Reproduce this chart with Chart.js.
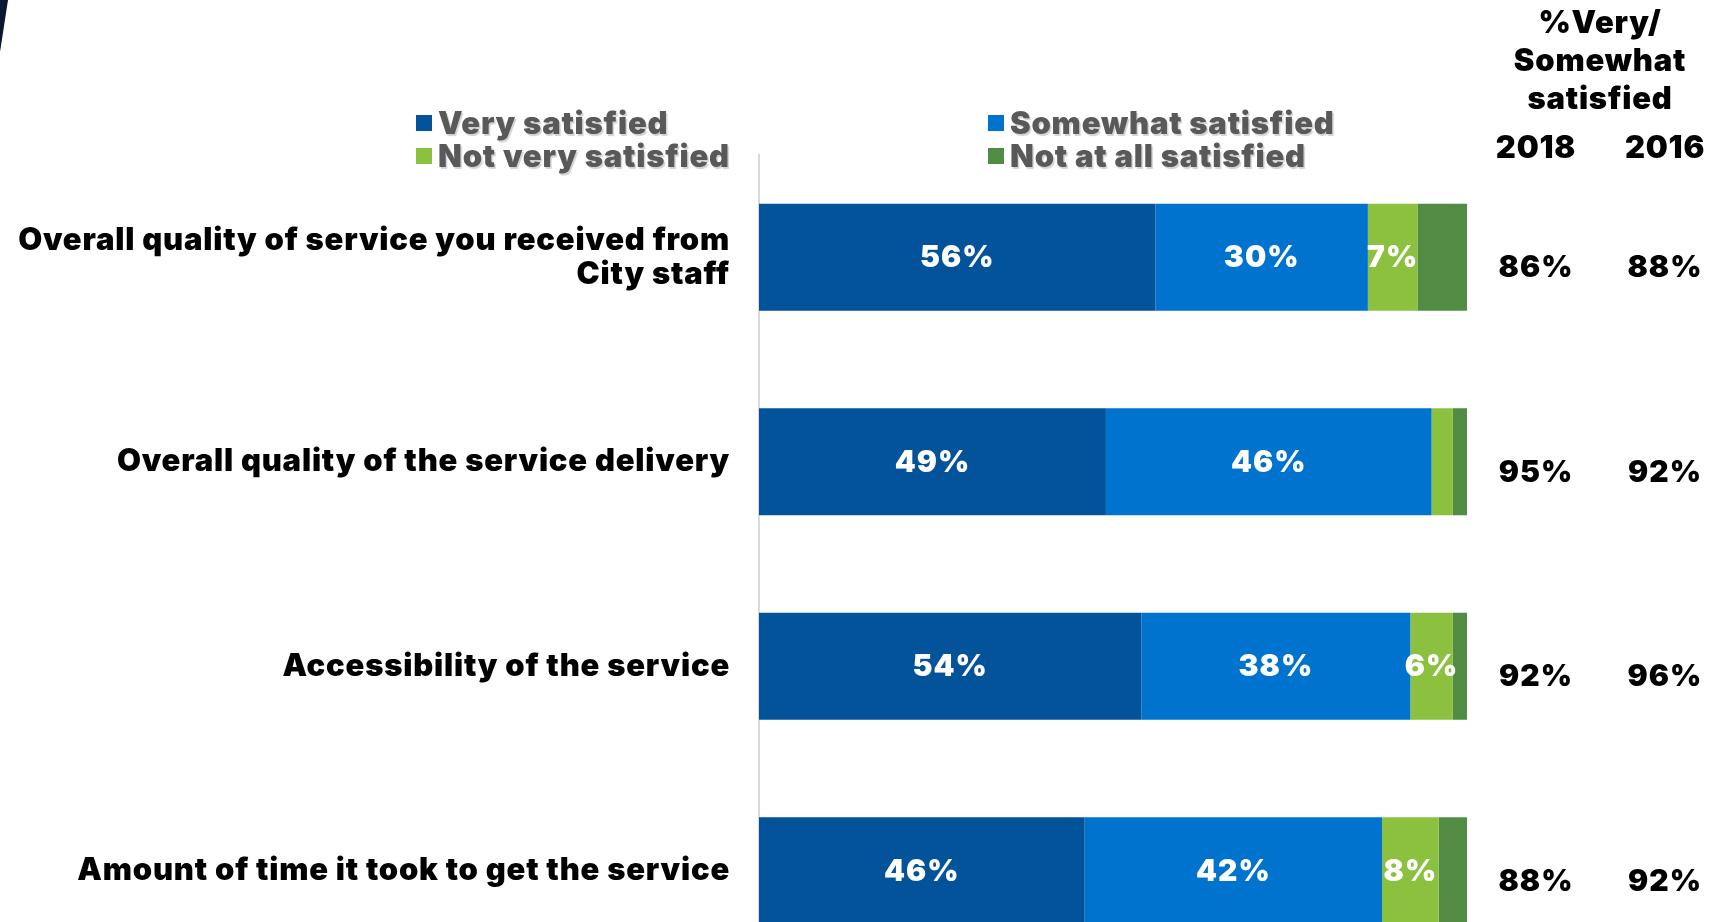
<!DOCTYPE html>
<html>
<head>
<meta charset="utf-8">
<script src="https://cdn.jsdelivr.net/npm/chart.js@4.4.1/dist/chart.umd.min.js"></script>
<style>
  html, body { margin: 0; padding: 0; background: #ffffff; overflow: hidden; }
  canvas { display: block; }
</style>
</head>
<body>
<canvas id="c" width="1734" height="974" style="width:1734px;height:974px"></canvas>
<script>
const categories = [
  ['Overall quality of service you received from', 'City staff'],
  'Overall quality of the service delivery',
  'Accessibility of the service',
  'Amount of time it took to get the service'
];
const seriesNames = ['Very satisfied', 'Somewhat satisfied', 'Not very satisfied', 'Not at all satisfied'];
const verySatisfied = [56, 49, 54, 46];
const somewhatSatisfied = [30, 46, 38, 42];
const notVerySatisfied = [7, 3, 6, 8];
const notAtAllSatisfied = [7, 2, 2, 4];
const headerLines = ['%Very/', 'Somewhat', 'satisfied'];
const yearLabels = ['2018', '2016'];
const total2018 = ['86%', '95%', '92%', '88%'];
const total2016 = ['88%', '92%', '96%', '92%'];

const seriesColors = ['#02539a', '#0073cf', '#8bc13f', '#518b44'];
const FONT = 'Inter, "Open Sans", Lato, sans-serif';

const spacing = {
  id: 'spacing',
  beforeDraw(chart) { chart.ctx.letterSpacing = '0.8px'; }
};

const overlay = {
  id: 'overlay',
  afterDraw(chart) {
    const ctx = chart.ctx;
    const yScale = chart.scales.y;
    ctx.save();
    // corner decoration
    ctx.fillStyle = '#0b1730';
    ctx.beginPath();
    ctx.moveTo(0, 0); ctx.lineTo(8, 0); ctx.lineTo(0, 52); ctx.closePath();
    ctx.fill();

    // data labels
    ctx.letterSpacing = '1px';
    ctx.font = '900 30px ' + FONT;
    ctx.fillStyle = '#ffffff';
    ctx.textAlign = 'center';
    ctx.textBaseline = 'middle';
    const lastDs = chart.data.datasets.length - 1;
    chart.data.datasets.forEach((ds, di) => {
      if (di === lastDs) return;
      const meta = chart.getDatasetMeta(di);
      meta.data.forEach((bar, i) => {
        const v = ds.data[i];
        if (v < 5) return;
        const cx = (bar.x + bar.base) / 2;
        ctx.fillText(v + '%', cx, bar.y + 1);
      });
    });

    // legend
    ctx.letterSpacing = '0.8px';
    const legendCols = [416, 988];
    const legendRows = [124, 157];
    ctx.font = '900 31px ' + FONT;
    ctx.textAlign = 'left';
    chart.data.datasets.forEach((ds, di) => {
      const col = di % 2, row = Math.floor(di / 2);
      const x = legendCols[col], y = legendRows[row];
      ctx.fillStyle = ds.backgroundColor;
      ctx.fillRect(x, y - 9, 16, 16);
      ctx.fillStyle = '#595959';
      ctx.shadowColor = 'rgba(0,0,0,0.18)';
      ctx.shadowOffsetX = 1.5; ctx.shadowOffsetY = 1.5; ctx.shadowBlur = 1;
      ctx.fillText(ds.label, x + 22, y + 1);
      ctx.shadowColor = 'transparent';
    });

    // right header
    ctx.fillStyle = '#000000';
    ctx.textAlign = 'center';
    ctx.font = '900 31px ' + FONT;
    const headerY = [24, 62, 100];
    headerLines.forEach((t, i) => ctx.fillText(t, 1600, headerY[i]));
    const colX = [1536, 1665];
    yearLabels.forEach((t, i) => ctx.fillText(t, colX[i], 149));
    ctx.letterSpacing = '1px';
    ctx.font = '900 30px ' + FONT;
    categories.forEach((c, i) => {
      const y = yScale.getPixelForValue(i) + 11;
      ctx.fillText(total2018[i], colX[0], y);
      ctx.fillText(total2016[i], colX[1], y);
    });
    ctx.restore();
  }
};

const data = {
  labels: categories,
  datasets: [verySatisfied, somewhatSatisfied, notVerySatisfied, notAtAllSatisfied].map((d, i) => ({
    label: seriesNames[i],
    data: d,
    backgroundColor: seriesColors[i],
    borderWidth: 0,
    categoryPercentage: 1,
    barPercentage: 0.523
  }))
};

new Chart(document.getElementById('c'), {
  type: 'bar',
  data,
  options: {
    indexAxis: 'y',
    responsive: false,
    animation: false,
    devicePixelRatio: 1,
    layout: { padding: { top: 155, right: 267, bottom: 1, left: 0 } },
    plugins: { legend: { display: false }, tooltip: { enabled: false } },
    scales: {
      x: { stacked: true, min: 0, max: 100, display: false },
      y: {
        stacked: true,
        grid: { display: false, drawTicks: false },
        border: { display: true, color: '#d9d9d9', width: 2 },
        afterFit(scale) {
          scale.width = 759;
          scale.paddingTop = 0;
          scale.paddingBottom = 0;
        },
        ticks: {
          color: '#000000',
          padding: 29,
          font: { family: FONT, size: 31, weight: '900', lineHeight: 1.1 },
          crossAlign: 'near'
        }
      }
    }
  },
  plugins: [spacing, overlay]
});
</script>
</body>
</html>
